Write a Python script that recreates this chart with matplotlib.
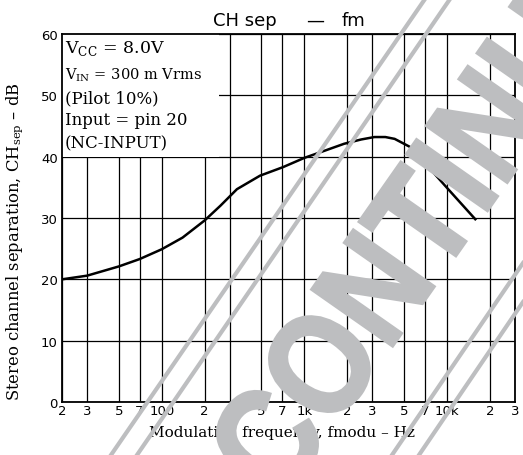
import math
import matplotlib
matplotlib.use("Agg")
import matplotlib.pyplot as plt
from matplotlib.lines import Line2D
from matplotlib.patches import Rectangle, PathPatch
from matplotlib.ticker import FixedLocator, NullLocator
from matplotlib.textpath import TextPath
from matplotlib.font_manager import FontProperties
from matplotlib.transforms import Affine2D

# ---- data ----
freq_hz = [20, 30, 50, 70, 100, 140, 200, 258, 337, 489, 710, 1000, 1400, 1900, 2500, 3100, 3700, 4300, 5600, 10200, 15800]
sep_db = [20.0, 20.6, 22.1, 23.3, 24.9, 26.8, 29.6, 32.0, 34.7, 36.9, 38.3, 39.8, 41.0, 42.1, 42.8, 43.2, 43.2, 42.9, 41.5, 34.7, 29.8]

x_grid = [20, 30, 50, 70, 100, 200, 300, 500, 700, 1000, 2000, 3000, 5000, 7000, 10000, 20000, 30000]
x_labels = ["2", "3", "5", "7", "100", "2", "3", "5", "7", "1k", "2", "3", "5", "7", "10k", "2", "3"]
y_grid = [0, 10, 20, 30, 40, 50, 60]
y_labels = ["0", "10", "20", "30", "40", "50", "60"]

W, H = 523, 456
SANS = "DejaVu Sans"
SERIF = "DejaVu Serif"
WM = "#bdbec0"

fig = plt.figure(figsize=(W / 100, H / 100), dpi=100)
ax = fig.add_axes([62 / W, 53 / H, 453 / W, 368 / H])
ax.set_xscale("log")
ax.set_xlim(20, 30000)
ax.set_ylim(0, 60)
ax.xaxis.set_major_locator(FixedLocator(x_grid))
ax.xaxis.set_minor_locator(NullLocator())
ax.set_xticklabels(x_labels, fontsize=9.5, family=SANS)
ax.set_yticks(y_grid)
ax.set_yticklabels(y_labels, fontsize=9.5, family=SANS)
ax.tick_params(length=0, pad=1.5)
ax.tick_params(axis="y", pad=3)
ax.set_axisbelow(True)
ax.grid(True, color="black", lw=0.9)
for s in ax.spines.values():
    s.set_linewidth(1.3)

# white block behind the condition notes
ax.add_patch(Rectangle((20, 40), 253 - 20, 20, facecolor="white", edgecolor="none", zorder=1))

ax.plot(freq_hz, sep_db, color="black", lw=1.8, zorder=3)

# title (spread like the original)
fig.text(213 / W, 1 - 26 / H, "CH sep", ha="left", va="baseline", fontsize=13, family=SANS)
fig.text(315 / W, 1 - 26 / H, "\u2014", ha="center", va="baseline", fontsize=13, family=SANS)
fig.text(342 / W, 1 - 26 / H, "fm", ha="left", va="baseline", fontsize=13, family=SANS)

ax.set_ylabel("Stereo channel separation, CH$_{\\mathregular{sep}}$ \u2013 dB",
              family=SERIF, fontsize=11.8)
ax.yaxis.set_label_coords((25 - 62) / 453, (403 - 242) / 368)
ax.set_xlabel("Modulation frequency, fmodu \u2013 Hz", family=SERIF, fontsize=11)
ax.xaxis.set_label_coords((282 - 62) / 453, -(437 - 403) / 368)
ax.xaxis.label.set_va("baseline")

notes = [
    ("V$_{\\mathregular{CC}}$ = 8.0V", 53, 12.5),
    ("V$_{\\mathregular{IN}}$ = 300 m Vrms", 79, 10.5),
    ("(Pilot 10%)", 103, 12),
    ("Input = pin 20", 125, 12),
    ("(NC-INPUT)", 148, 12),
]
for txt, yb, fs in notes:
    fig.text(65 / W, 1 - yb / H, txt, ha="left", va="baseline", fontsize=fs, family=SERIF)

# ---- watermark ----
for (x1, y1, x2, y2) in [(111, 456, 425, 0), (137, 456, 450, 0),
                         (392, 456, 523, 264), (419, 456, 523, 303)]:
    fig.add_artist(Line2D([x1 / W, x2 / W], [1 - y1 / H, 1 - y2 / H],
                          transform=fig.transFigure, color=WM, lw=3, zorder=9))

fp = FontProperties(family="Liberation Sans", weight="bold")
tp = TextPath((0, 0), "CONTINUED", size=1, prop=fp)
sx, sy, theta = 124.0, 144.0, 55.0
o_local = (0.722 + 0.389, 0.358)          # centre of the "O" in em units
c, s = math.cos(math.radians(theta)), math.sin(math.radians(theta))
lx, ly = o_local[0] * sx, o_local[1] * sy
rx, ry = c * lx - s * ly, s * lx + c * ly
target = (318, H - 364)                   # O centre in display pixels
tr = Affine2D().scale(sx, sy).rotate_deg(theta).translate(target[0] - rx, target[1] - ry)
fig.add_artist(PathPatch(tp, transform=tr, facecolor=WM, edgecolor=WM, lw=2.0, zorder=10))

fig.savefig("out.png", dpi=100)
